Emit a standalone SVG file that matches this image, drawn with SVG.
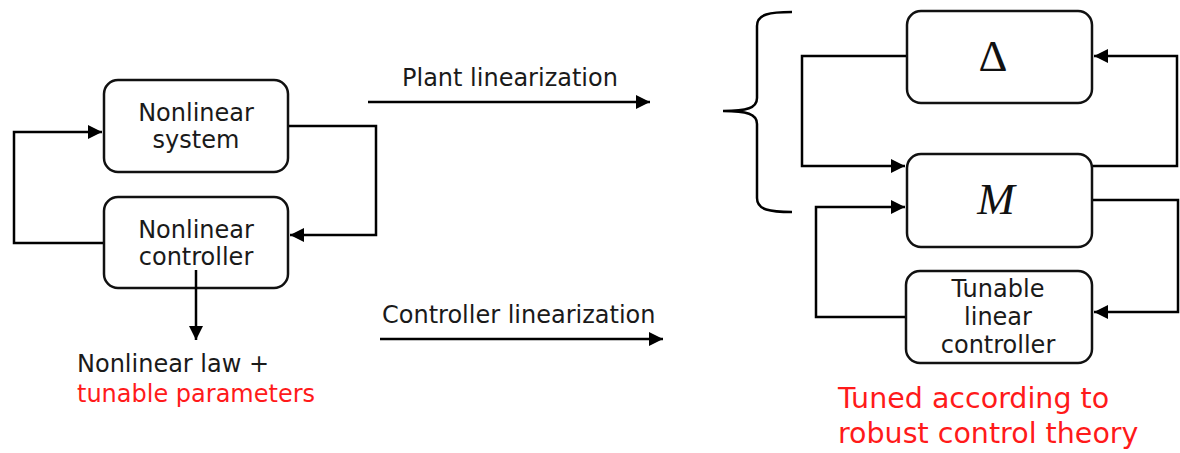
<svg xmlns="http://www.w3.org/2000/svg" width="1180" height="453" viewBox="0 0 1180 453">
  <style>
    .box { fill: #fff; stroke: #111; stroke-width: 2.5; }
    .wire { fill: none; stroke: #000; stroke-width: 2.5; }
    .lbl { font-family: "DejaVu Sans", "Liberation Sans", sans-serif; font-size: 24px; fill: #1a1a1a; }
    .mid { text-anchor: middle; }
    .red { fill: #ff1a1a; }
    .big { font-size: 28.5px; }
    .math { font-family: "Liberation Serif", "DejaVu Serif", serif; font-size: 45px; fill: #111; text-anchor: middle; }
  </style>
  <defs>
    <marker id="arrow" viewBox="0 0 14 14" markerWidth="14" markerHeight="14" refX="14" refY="7" orient="auto" markerUnits="userSpaceOnUse">
      <path d="M0,0 L14,7 L0,14 z" fill="#000"/>
    </marker>
  </defs>
  <rect width="1180" height="453" fill="#fff"/>

  <!-- nonlinear side -->
  <g id="nonlinear-system">
    <rect class="box" x="104" y="80" width="184" height="92" rx="14"/>
    <text class="lbl mid" x="196" y="121">Nonlinear</text>
    <text class="lbl mid" x="196" y="148">system</text>
  </g>
  <g id="nonlinear-controller">
    <rect class="box" x="104" y="197" width="184" height="91" rx="14"/>
    <text class="lbl mid" x="196" y="238">Nonlinear</text>
    <text class="lbl mid" x="196" y="265">controller</text>
  </g>
  <g id="nonlinear-law">
    <text class="lbl" x="77" y="372">Nonlinear law +</text>
    <text class="lbl red" x="77" y="402">tunable parameters</text>
  </g>

  <!-- arrow labels -->
  <g id="plant-linearization">
    <text class="lbl" x="402" y="86">Plant linearization</text>
  </g>
  <g id="controller-linearization">
    <text class="lbl" x="382" y="323">Controller linearization</text>
  </g>

  <!-- linear side -->
  <g id="delta">
    <rect class="box" x="907" y="11" width="185" height="92" rx="14"/>
    <text class="math" x="993" y="71">Δ</text>
  </g>
  <g id="m-block">
    <rect class="box" x="907" y="154" width="185" height="93" rx="14"/>
    <text class="math" x="996" y="214" font-style="italic">M</text>
  </g>
  <g id="tunable-controller">
    <rect class="box" x="906" y="271" width="186" height="92" rx="14"/>
    <text class="lbl mid" x="998" y="297">Tunable</text>
    <text class="lbl mid" x="998" y="325">linear</text>
    <text class="lbl mid" x="998" y="353">controller</text>
  </g>
  <g id="robust-note">
    <text class="lbl red big" x="838" y="408">Tuned according to</text>
    <text class="lbl red big" x="838" y="443">robust control theory</text>
  </g>

  <!-- connectors -->
  <g id="connectors">
    <!-- nonlinear loop -->
    <polyline class="wire" points="289,126 376,126 376,235 290,235" marker-end="url(#arrow)"/>
    <polyline class="wire" points="103,243 14,243 14,132 102,132" marker-end="url(#arrow)"/>
    <line class="wire" x1="196" y1="270" x2="196" y2="340" marker-end="url(#arrow)"/>
    <!-- linearization arrows -->
    <line class="wire" x1="368" y1="102" x2="650" y2="102" marker-end="url(#arrow)"/>
    <line class="wire" x1="380" y1="339" x2="663" y2="339" marker-end="url(#arrow)"/>
    <!-- M-Delta loop -->
    <polyline class="wire" points="906,56 802,56 802,166 905,166" marker-end="url(#arrow)"/>
    <polyline class="wire" points="1093,166 1177,166 1177,56 1094,56" marker-end="url(#arrow)"/>
    <!-- M-controller loop -->
    <polyline class="wire" points="1093,200 1178,200 1178,312 1094,312" marker-end="url(#arrow)"/>
    <polyline class="wire" points="905,317 816,317 816,207 905,207" marker-end="url(#arrow)"/>
    <!-- brace grouping the linear plant -->
    <path class="wire" stroke-width="2" d="M792,12 C770,12 757,14 757,26 L757,98 C757,108 747,111 723,111 C747,111 757,114 757,124 L757,198 C757,210 770,212 792,212"/>
  </g>
</svg>
